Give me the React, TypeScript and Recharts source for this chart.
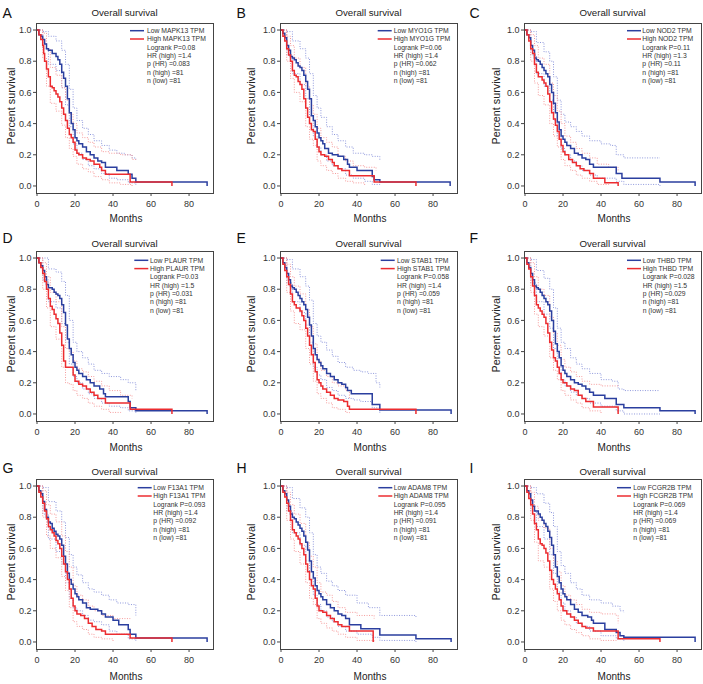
import React from 'react';
import { LineChart, Line, XAxis, YAxis } from 'recharts';

type Pt = [number, number];

// ---------- Panel text ----------
const letters = ['A', 'B', 'C', 'D', 'E', 'F', 'G', 'H', 'I'];
const genes = ['MAPK13', 'MYO1G', 'NOD2', 'PLAUR', 'STAB1', 'THBD', 'F13A1', 'ADAM8', 'FCGR2B'];
const logrankP = ['0.08', '0.06', '0.11', '0.03', '0.058', '0.028', '0.093', '0.095', '0.069'];
const hrHigh = ['1.4', '1.4', '1.3', '1.5', '1.4', '1.5', '1.4', '1.4', '1.4'];
const pHR = ['0.083', '0.062', '0.11', '0.031', '0.059', '0.029', '0.092', '0.091', '0.069'];
const nHigh = ['81', '81', '81', '81', '81', '81', '81', '81', '81'];
const nLow = ['81', '81', '81', '81', '81', '81', '81', '81', '81'];
const xTicks = [0, 20, 40, 60, 80];
const yTicks = [0, 0.2, 0.4, 0.6, 0.8, 1.0];

// ---------- Panel A: MAPK13 ----------
const A_low: Pt[] = [[0,1],[1,0.97],[2,0.96],[3,0.94],[4,0.91],[5,0.88],[6,0.87],[8,0.85],[10,0.83],[11,0.81],[12,0.78],[13,0.73],[14,0.69],[15,0.64],[16,0.56],[17,0.47],[18,0.40],[19,0.36],[20,0.31],[21,0.29],[22,0.27],[24,0.25],[26,0.22],[28,0.20],[30,0.18],[32,0.16],[34,0.15],[36,0.12],[42,0.10],[48,0.075],[50,0.05],[52,0.025],[89.5,0.025],[89.5,0]];
const A_high: Pt[] = [[0,1],[1,0.97],[2,0.94],[3,0.90],[3.5,0.85],[4,0.80],[5,0.75],[6,0.70],[7,0.64],[8,0.63],[9,0.61],[10,0.59],[11,0.57],[12,0.54],[13,0.50],[14,0.46],[15,0.42],[16,0.37],[17,0.33],[18,0.31],[19,0.28],[20,0.23],[21,0.21],[22,0.20],[24,0.18],[26,0.17],[28,0.16],[30,0.14],[33,0.12],[34,0.10],[36,0.075],[49,0.025],[71,0.025],[71,0]];
const A_lowUp: Pt[] = [[0,1],[3,0.99],[6,0.96],[10,0.93],[13,0.87],[15,0.78],[17,0.62],[19,0.50],[21,0.42],[24,0.37],[27,0.33],[30,0.29],[34,0.26],[38,0.23],[42,0.21],[46,0.20],[50,0.18],[52,0.17]];
const A_lowLo: Pt[] = [[0,1],[3,0.88],[6,0.78],[10,0.74],[13,0.63],[15,0.52],[17,0.38],[19,0.27],[21,0.21],[24,0.17],[27,0.13],[30,0.11],[34,0.08],[38,0.05],[42,0.04],[48,0.02],[52,0.0]];
const A_highUp: Pt[] = [[0,1],[3,0.98],[5,0.88],[7,0.76],[10,0.71],[13,0.63],[15,0.55],[17,0.46],[19,0.40],[21,0.34],[24,0.31],[27,0.28],[30,0.25],[34,0.22],[38,0.21],[44,0.20],[50,0.17],[52,0.16]];
const A_highLo: Pt[] = [[0,1],[3,0.82],[5,0.64],[7,0.53],[10,0.48],[13,0.39],[15,0.31],[17,0.24],[19,0.19],[21,0.14],[24,0.11],[27,0.09],[30,0.06],[34,0.04],[38,0.02],[44,0.01],[50,0.0]];

// ---------- Panel B: MYO1G ----------
const B_low: Pt[] = [[0,1],[1,0.98],[2,0.95],[3,0.90],[4,0.87],[5,0.83],[6,0.82],[7,0.81],[8,0.79],[9,0.77],[10,0.76],[11,0.74],[12,0.71],[13,0.67],[14,0.62],[15,0.56],[16,0.45],[17,0.42],[18,0.38],[19,0.34],[20,0.31],[21,0.29],[22,0.27],[23,0.24],[25,0.21],[27,0.20],[30,0.19],[33,0.17],[35,0.14],[36,0.12],[40,0.10],[48,0.06],[49,0.04],[52,0.025],[89,0.025],[89,0]];
const B_high: Pt[] = [[0,1],[1,0.96],[2,0.93],[3,0.88],[4,0.84],[5,0.80],[6,0.74],[7,0.71],[8,0.70],[9,0.67],[10,0.65],[11,0.62],[12,0.56],[13,0.50],[14,0.44],[15,0.40],[16,0.36],[17,0.35],[18,0.30],[19,0.25],[20,0.22],[21,0.20],[23,0.19],[25,0.17],[27,0.15],[28,0.13],[30,0.11],[32,0.10],[36,0.065],[49,0.025],[71,0.025],[71,0]];
const B_lowUp: Pt[] = [[0,1],[3,0.99],[6,0.93],[10,0.88],[13,0.82],[15,0.72],[17,0.58],[19,0.50],[21,0.44],[24,0.38],[27,0.33],[30,0.29],[34,0.25],[38,0.21],[44,0.20],[48,0.19],[52,0.16]];
const B_lowLo: Pt[] = [[0,1],[3,0.84],[6,0.72],[10,0.65],[13,0.56],[15,0.45],[17,0.32],[19,0.25],[21,0.20],[24,0.16],[27,0.13],[30,0.11],[34,0.07],[38,0.05],[44,0.03],[48,0.01],[52,0.0]];
const B_highUp: Pt[] = [[0,1],[3,0.96],[5,0.90],[7,0.82],[10,0.76],[13,0.64],[15,0.52],[17,0.46],[19,0.37],[21,0.31],[24,0.28],[27,0.25],[30,0.19],[34,0.16],[38,0.13],[44,0.12],[50,0.10]];
const B_highLo: Pt[] = [[0,1],[3,0.80],[5,0.69],[7,0.60],[10,0.54],[13,0.38],[15,0.30],[17,0.26],[19,0.16],[21,0.13],[24,0.10],[27,0.08],[30,0.05],[34,0.03],[38,0.02],[44,0.0]];

// ---------- Panel C: NOD2 ----------
const C_low: Pt[] = [[0,1],[1,0.97],[2,0.95],[3,0.90],[4,0.87],[5,0.82],[6,0.81],[7,0.80],[8,0.78],[9,0.76],[10,0.74],[11,0.72],[12,0.70],[13,0.65],[14,0.60],[15,0.53],[16,0.47],[17,0.41],[18,0.36],[19,0.32],[20,0.30],[21,0.28],[22,0.26],[24,0.24],[26,0.21],[28,0.20],[30,0.18],[32,0.17],[34,0.14],[36,0.12],[48,0.08],[51,0.05],[71,0.025],[89.5,0.025],[89.5,0]];
const C_high: Pt[] = [[0,1],[1,0.97],[2,0.93],[3,0.88],[4,0.85],[5,0.78],[6,0.73],[7,0.70],[9,0.68],[10,0.66],[11,0.64],[12,0.59],[13,0.54],[14,0.47],[15,0.43],[16,0.39],[17,0.35],[18,0.30],[19,0.26],[20,0.22],[21,0.20],[23,0.17],[25,0.15],[27,0.13],[29,0.11],[31,0.10],[34,0.08],[36,0.05],[42,0.02],[49,0.02],[49,0]];
const C_lowUp: Pt[] = [[0,1],[3,0.99],[6,0.92],[10,0.86],[13,0.80],[15,0.70],[17,0.55],[19,0.46],[21,0.41],[24,0.38],[27,0.35],[30,0.32],[34,0.29],[40,0.27],[45,0.26],[48,0.20],[52,0.18],[71,0.18]];
const C_lowLo: Pt[] = [[0,1],[3,0.84],[6,0.72],[10,0.64],[13,0.55],[15,0.42],[17,0.32],[19,0.24],[21,0.20],[24,0.16],[27,0.13],[30,0.10],[34,0.07],[38,0.05],[48,0.03],[52,0.01],[71,0.0]];
const C_highUp: Pt[] = [[0,1],[3,0.97],[5,0.90],[7,0.82],[10,0.78],[13,0.66],[15,0.58],[17,0.48],[19,0.40],[21,0.32],[24,0.28],[27,0.24],[30,0.21],[34,0.18],[38,0.14],[44,0.12],[49,0.10]];
const C_highLo: Pt[] = [[0,1],[3,0.80],[5,0.66],[7,0.58],[10,0.52],[13,0.40],[15,0.32],[17,0.25],[19,0.17],[21,0.13],[24,0.10],[27,0.07],[30,0.05],[34,0.03],[38,0.01],[44,0.0]];

// ---------- Panel D: PLAUR ----------
const D_low: Pt[] = [[0,1],[1,0.97],[2,0.95],[3,0.92],[4,0.88],[5,0.83],[6,0.81],[8,0.80],[9,0.78],[10,0.77],[11,0.76],[12,0.74],[13,0.70],[14,0.65],[15,0.57],[16,0.48],[17,0.42],[18,0.38],[19,0.33],[20,0.30],[21,0.28],[22,0.26],[24,0.24],[26,0.22],[28,0.20],[30,0.18],[33,0.16],[35,0.13],[36,0.11],[48,0.08],[49,0.04],[52,0.02],[89.5,0.02],[89.5,0]];
const D_high: Pt[] = [[0,1],[1,0.97],[2,0.94],[3,0.90],[4,0.85],[5,0.80],[6,0.74],[7,0.69],[8,0.67],[9,0.64],[10,0.61],[11,0.58],[12,0.52],[13,0.44],[14,0.34],[15,0.30],[18,0.30],[19,0.25],[20,0.21],[22,0.19],[24,0.18],[26,0.16],[28,0.14],[30,0.12],[32,0.10],[36,0.07],[49,0.03],[71,0.03],[71,0]];
const D_lowUp: Pt[] = [[0,1],[3,1.0],[6,0.93],[10,0.91],[13,0.85],[15,0.76],[17,0.60],[19,0.46],[21,0.40],[24,0.36],[27,0.32],[30,0.28],[34,0.26],[38,0.24],[44,0.22],[48,0.20],[52,0.15]];
const D_lowLo: Pt[] = [[0,1],[3,0.86],[6,0.72],[10,0.68],[13,0.58],[15,0.46],[17,0.32],[19,0.24],[21,0.20],[24,0.16],[27,0.13],[30,0.10],[34,0.07],[38,0.05],[44,0.04],[48,0.02],[52,0.0]];
const D_highUp: Pt[] = [[0,1],[3,0.97],[5,0.88],[7,0.78],[10,0.72],[13,0.56],[15,0.42],[17,0.40],[19,0.34],[21,0.29],[24,0.27],[27,0.24],[30,0.21],[34,0.18],[38,0.15],[44,0.12],[50,0.10]];
const D_highLo: Pt[] = [[0,1],[3,0.80],[5,0.68],[7,0.56],[10,0.48],[13,0.30],[15,0.20],[17,0.19],[19,0.15],[21,0.12],[24,0.10],[27,0.07],[30,0.05],[34,0.03],[38,0.01],[44,0.0]];

// ---------- Panel E: STAB1 ----------
const E_low: Pt[] = [[0,1],[1,0.97],[2,0.94],[3,0.90],[4,0.86],[5,0.82],[6,0.81],[7,0.80],[8,0.78],[9,0.76],[10,0.74],[11,0.72],[12,0.70],[13,0.67],[14,0.62],[15,0.57],[16,0.50],[17,0.42],[18,0.38],[19,0.35],[20,0.33],[21,0.31],[22,0.29],[24,0.26],[26,0.24],[28,0.22],[30,0.20],[32,0.19],[34,0.17],[35,0.15],[37,0.13],[48,0.06],[52,0.025],[89.5,0.025],[89.5,0]];
const E_high: Pt[] = [[0,1],[1,0.96],[2,0.92],[3,0.88],[4,0.83],[5,0.77],[6,0.72],[7,0.70],[8,0.68],[10,0.66],[11,0.63],[12,0.60],[13,0.55],[14,0.50],[15,0.44],[16,0.38],[17,0.33],[18,0.27],[19,0.22],[20,0.20],[21,0.18],[22,0.16],[24,0.14],[26,0.12],[28,0.10],[30,0.09],[33,0.08],[35,0.05],[36,0.03],[71,0.03],[71,0]];
const E_lowUp: Pt[] = [[0,1],[3,0.99],[6,0.93],[10,0.88],[13,0.82],[15,0.73],[17,0.58],[19,0.50],[21,0.46],[24,0.41],[27,0.37],[30,0.33],[34,0.30],[38,0.28],[42,0.27],[46,0.26],[50,0.20],[52,0.17]];
const E_lowLo: Pt[] = [[0,1],[3,0.84],[6,0.72],[10,0.65],[13,0.57],[15,0.46],[17,0.30],[19,0.25],[21,0.22],[24,0.17],[27,0.15],[30,0.12],[34,0.10],[38,0.09],[42,0.08],[48,0.04],[52,0.0]];
const E_highUp: Pt[] = [[0,1],[3,0.96],[5,0.88],[7,0.82],[10,0.77],[13,0.67],[15,0.56],[17,0.45],[19,0.34],[21,0.28],[24,0.24],[27,0.20],[30,0.18],[34,0.15],[36,0.10]];
const E_highLo: Pt[] = [[0,1],[3,0.78],[5,0.66],[7,0.58],[10,0.54],[13,0.42],[15,0.32],[17,0.21],[19,0.13],[21,0.10],[24,0.07],[27,0.04],[30,0.03],[34,0.01],[36,0.0]];

// ---------- Panel F: THBD ----------
const F_low: Pt[] = [[0,1],[1,0.97],[2,0.94],[3,0.90],[4,0.86],[5,0.82],[6,0.81],[7,0.80],[8,0.78],[9,0.76],[10,0.74],[11,0.72],[12,0.70],[13,0.66],[14,0.60],[15,0.53],[16,0.45],[17,0.40],[18,0.36],[19,0.31],[20,0.28],[21,0.26],[22,0.24],[24,0.22],[26,0.20],[28,0.19],[30,0.18],[32,0.16],[34,0.14],[36,0.12],[42,0.10],[48,0.06],[52,0.04],[71,0.02],[89.5,0.02],[89.5,0]];
const F_high: Pt[] = [[0,1],[1,0.96],[2,0.93],[3,0.88],[4,0.82],[5,0.76],[6,0.70],[7,0.68],[8,0.66],[9,0.64],[10,0.62],[11,0.58],[12,0.52],[13,0.46],[14,0.41],[15,0.36],[16,0.34],[17,0.30],[18,0.26],[19,0.22],[20,0.20],[22,0.18],[24,0.16],[26,0.15],[28,0.12],[30,0.10],[32,0.08],[36,0.045],[49,0.045],[49,0]];
const F_lowUp: Pt[] = [[0,1],[3,0.99],[6,0.92],[10,0.87],[13,0.80],[15,0.68],[17,0.55],[19,0.46],[21,0.42],[24,0.36],[27,0.32],[30,0.29],[34,0.26],[40,0.22],[46,0.21],[49,0.16],[52,0.15],[71,0.15]];
const F_lowLo: Pt[] = [[0,1],[3,0.84],[6,0.72],[10,0.64],[13,0.55],[15,0.42],[17,0.30],[19,0.22],[21,0.18],[24,0.14],[27,0.12],[30,0.10],[34,0.07],[40,0.05],[48,0.02],[52,0.0],[71,0.0]];
const F_highUp: Pt[] = [[0,1],[3,0.97],[5,0.88],[7,0.80],[10,0.76],[13,0.62],[15,0.52],[17,0.44],[19,0.35],[21,0.30],[24,0.27],[27,0.24],[30,0.21],[34,0.19],[40,0.18],[49,0.18]];
const F_highLo: Pt[] = [[0,1],[3,0.78],[5,0.64],[7,0.56],[10,0.50],[13,0.36],[15,0.28],[17,0.22],[19,0.15],[21,0.12],[24,0.09],[27,0.07],[30,0.04],[34,0.02],[40,0.0]];

// ---------- Panel G: F13A1 ----------
const G_low: Pt[] = [[0,1],[1,0.97],[2,0.95],[3,0.90],[4,0.85],[5,0.80],[6,0.77],[7,0.76],[8,0.73],[9,0.71],[10,0.69],[11,0.68],[12,0.66],[13,0.62],[14,0.55],[15,0.50],[16,0.44],[17,0.40],[18,0.37],[19,0.34],[20,0.31],[21,0.29],[22,0.27],[24,0.25],[26,0.22],[28,0.21],[32,0.20],[34,0.18],[36,0.16],[40,0.14],[43,0.11],[48,0.08],[49,0.05],[52,0.025],[89.5,0.025],[89.5,0]];
const G_high: Pt[] = [[0,1],[1,0.96],[2,0.93],[3,0.89],[4,0.84],[5,0.79],[6,0.74],[7,0.72],[8,0.70],[9,0.68],[10,0.65],[11,0.63],[12,0.60],[13,0.55],[14,0.50],[15,0.45],[16,0.40],[17,0.34],[18,0.28],[19,0.23],[20,0.20],[21,0.18],[23,0.17],[25,0.15],[27,0.12],[29,0.10],[31,0.08],[34,0.07],[36,0.05],[49,0.025],[71,0.025],[71,0]];
const G_lowUp: Pt[] = [[0,1],[3,0.99],[6,0.90],[10,0.84],[13,0.77],[15,0.67],[17,0.56],[19,0.48],[21,0.43],[24,0.38],[27,0.34],[30,0.32],[34,0.30],[38,0.27],[42,0.25],[48,0.24],[52,0.17]];
const G_lowLo: Pt[] = [[0,1],[3,0.82],[6,0.66],[10,0.58],[13,0.50],[15,0.38],[17,0.28],[19,0.22],[21,0.20],[24,0.17],[27,0.14],[30,0.13],[34,0.11],[38,0.07],[42,0.05],[48,0.02],[52,0.0]];
const G_highUp: Pt[] = [[0,1],[3,0.97],[5,0.88],[7,0.82],[10,0.77],[13,0.68],[15,0.58],[17,0.48],[19,0.36],[21,0.30],[24,0.27],[27,0.23],[30,0.20],[34,0.17],[40,0.15],[49,0.14]];
const G_highLo: Pt[] = [[0,1],[3,0.80],[5,0.68],[7,0.60],[10,0.54],[13,0.42],[15,0.33],[17,0.22],[19,0.13],[21,0.10],[24,0.08],[27,0.05],[30,0.03],[34,0.02],[40,0.0]];

// ---------- Panel H: ADAM8 ----------
const H_low: Pt[] = [[0,1],[1,0.97],[2,0.95],[3,0.91],[4,0.87],[5,0.82],[6,0.80],[7,0.79],[8,0.77],[9,0.75],[10,0.73],[11,0.71],[12,0.68],[13,0.64],[14,0.59],[15,0.52],[16,0.45],[17,0.41],[18,0.36],[19,0.33],[20,0.31],[21,0.29],[22,0.27],[24,0.24],[26,0.22],[28,0.20],[30,0.18],[32,0.17],[34,0.15],[36,0.11],[42,0.085],[52,0.045],[71,0.02],[89.5,0.02],[89.5,0]];
const H_high: Pt[] = [[0,1],[1,0.96],[2,0.93],[3,0.89],[4,0.84],[5,0.78],[6,0.72],[7,0.70],[8,0.68],[9,0.66],[10,0.63],[11,0.60],[12,0.56],[13,0.50],[14,0.45],[15,0.40],[16,0.36],[17,0.34],[18,0.28],[19,0.23],[20,0.20],[22,0.19],[24,0.17],[26,0.15],[28,0.13],[30,0.11],[32,0.10],[36,0.07],[48.5,0.07],[48.5,0]];
const H_lowUp: Pt[] = [[0,1],[3,0.99],[6,0.92],[10,0.86],[13,0.80],[15,0.70],[17,0.56],[19,0.48],[21,0.44],[24,0.39],[27,0.36],[30,0.33],[34,0.30],[40,0.25],[46,0.22],[52,0.17],[71,0.16]];
const H_lowLo: Pt[] = [[0,1],[3,0.84],[6,0.70],[10,0.62],[13,0.52],[15,0.40],[17,0.30],[19,0.24],[21,0.20],[24,0.16],[27,0.13],[30,0.10],[34,0.07],[40,0.05],[48,0.03],[52,0.01],[71,0.0]];
const H_highUp: Pt[] = [[0,1],[3,0.96],[5,0.88],[7,0.82],[10,0.76],[13,0.64],[15,0.55],[17,0.48],[19,0.38],[21,0.32],[24,0.30],[27,0.26],[30,0.22],[34,0.19],[40,0.17],[49,0.15]];
const H_highLo: Pt[] = [[0,1],[3,0.78],[5,0.66],[7,0.58],[10,0.50],[13,0.38],[15,0.28],[17,0.24],[19,0.15],[21,0.12],[24,0.09],[27,0.07],[30,0.05],[34,0.03],[40,0.01],[49,0.0]];

// ---------- Panel I: FCGR2B ----------
const I_low: Pt[] = [[0,1],[1,0.97],[2,0.95],[3,0.91],[4,0.87],[5,0.84],[7,0.82],[8,0.80],[9,0.78],[10,0.76],[11,0.74],[12,0.71],[13,0.67],[14,0.62],[15,0.56],[16,0.48],[17,0.42],[18,0.38],[19,0.34],[20,0.31],[21,0.29],[22,0.27],[24,0.24],[26,0.21],[28,0.19],[30,0.17],[33,0.16],[35,0.14],[36,0.12],[42,0.08],[48,0.06],[50,0.04],[52,0.03],[89.5,0.03],[89.5,0]];
const I_high: Pt[] = [[0,1],[1,0.96],[2,0.92],[3,0.88],[4,0.82],[5,0.76],[6,0.72],[7,0.66],[8,0.63],[9,0.62],[10,0.60],[11,0.57],[12,0.52],[13,0.46],[14,0.40],[15,0.37],[16,0.34],[17,0.31],[18,0.27],[19,0.23],[20,0.20],[22,0.18],[24,0.16],[26,0.14],[28,0.12],[30,0.10],[32,0.09],[36,0.07],[48,0.07],[49,0.02],[71,0.02],[71,0]];
const I_lowUp: Pt[] = [[0,1],[3,0.99],[6,0.95],[10,0.89],[13,0.83],[15,0.74],[17,0.58],[19,0.49],[21,0.44],[24,0.38],[27,0.34],[30,0.30],[34,0.27],[40,0.25],[46,0.23],[50,0.20],[52,0.19]];
const I_lowLo: Pt[] = [[0,1],[3,0.84],[6,0.74],[10,0.66],[13,0.56],[15,0.44],[17,0.32],[19,0.25],[21,0.20],[24,0.16],[27,0.12],[30,0.10],[34,0.07],[40,0.04],[48,0.02],[52,0.0]];
const I_highUp: Pt[] = [[0,1],[3,0.96],[5,0.87],[7,0.78],[10,0.73],[13,0.60],[15,0.52],[17,0.45],[19,0.36],[21,0.30],[24,0.27],[27,0.24],[30,0.21],[34,0.19],[40,0.18],[48,0.17],[49,0.12]];
const I_highLo: Pt[] = [[0,1],[3,0.78],[5,0.64],[7,0.52],[10,0.48],[13,0.34],[15,0.26],[17,0.20],[19,0.14],[21,0.11],[24,0.08],[27,0.06],[30,0.04],[34,0.02],[40,0.01],[48,0.0]];

const lowCurves = [A_low, B_low, C_low, D_low, E_low, F_low, G_low, H_low, I_low];
const highCurves = [A_high, B_high, C_high, D_high, E_high, F_high, G_high, H_high, I_high];
const lowUpper = [A_lowUp, B_lowUp, C_lowUp, D_lowUp, E_lowUp, F_lowUp, G_lowUp, H_lowUp, I_lowUp];
const lowLower = [A_lowLo, B_lowLo, C_lowLo, D_lowLo, E_lowLo, F_lowLo, G_lowLo, H_lowLo, I_lowLo];
const highUpper = [A_highUp, B_highUp, C_highUp, D_highUp, E_highUp, F_highUp, G_highUp, H_highUp, I_highUp];
const highLower = [A_highLo, B_highLo, C_highLo, D_highLo, E_highLo, F_highLo, G_highLo, H_highLo, I_highLo];

// ---------- Layout / style ----------
const FONT = '"Liberation Sans", Arial, Helvetica, sans-serif';
const BLUE = '#2b3f9f';
const RED = '#ec2c30';
const LIGHT_BLUE = '#8f98dc';
const LIGHT_RED = '#f59c9c';
const FRAME = '#444';
const FW = 177;
const FH = 170;
const colLeft = [36, 280, 524];
const rowTop = [23, 251, 479];
const letterX = [2.5, 236.5, 469.5];
const letterBase = [18.3, 243, 472.5];
const titleBase = [15.5, 247, 475.3];
const monthsBase = [221.5, 451, 680];
const legendY0 = [30.7, 260.3, 487.7];
const yLabelBase = [14.5, 254.5, 500];
const legendLineX = [130, 377.7, 627, 134.3, 380.7, 627, 137.7, 378.3, 617];
const legendTextX = [147, 393.7, 642.3, 150, 397, 642.7, 153.3, 393.7, 633.3];

const YW = 36;
const MT = 5;
const XH = 25;

const toObj = (pts: Pt[]) => pts.map((p) => ({ x: p[0], y: p[1] }));

function Panel({ i }: { i: number }) {
  const col = i % 3;
  const row = Math.floor(i / 3);
  const left = colLeft[col] - YW;
  const top = rowTop[row] - MT;
  const ci = [
    { d: lowUpper[i], c: LIGHT_BLUE, k: 'lu' },
    { d: lowLower[i], c: LIGHT_BLUE, k: 'll' },
    { d: highUpper[i], c: LIGHT_RED, k: 'hu' },
    { d: highLower[i], c: LIGHT_RED, k: 'hl' },
  ];
  return (
    <div style={{ position: 'absolute', left, top }}>
      <LineChart width={YW + FW + 2} height={MT + FH + XH} margin={{ top: MT, right: 2, left: 0, bottom: 0 }}>
        <XAxis
          type="number"
          dataKey="x"
          domain={[-0.53, 92.6]}
          ticks={xTicks}
          allowDataOverflow
          axisLine={false}
          tickLine={{ stroke: FRAME }}
          tickSize={3}
          tickMargin={5}
          height={XH}
          interval={0}
          tick={{ fontSize: 9, fill: '#333', fontFamily: FONT }}
        />
        <YAxis
          type="number"
          dataKey="y"
          domain={[-0.045, 1.045]}
          ticks={yTicks}
          allowDataOverflow
          axisLine={false}
          tickLine={{ stroke: FRAME }}
          tickSize={3}
          tickMargin={1.5}
          width={YW}
          interval={0}
          tickFormatter={(v: number) => v.toFixed(1)}
          tick={{ fontSize: 9, fill: '#333', fontFamily: FONT }}
        />
        {ci.map((s) => (
          <Line
            key={s.k}
            data={toObj(s.d)}
            dataKey="y"
            type="stepAfter"
            stroke={s.c}
            strokeWidth={1}
            strokeDasharray="1 1.5"
            dot={false}
            activeDot={false}
            isAnimationActive={false}
          />
        ))}
        <Line data={toObj(lowCurves[i])} dataKey="y" type="stepAfter" stroke={BLUE} strokeWidth={1.5} dot={false} activeDot={false} isAnimationActive={false} />
        <Line data={toObj(highCurves[i])} dataKey="y" type="stepAfter" stroke={RED} strokeWidth={1.5} dot={false} activeDot={false} isAnimationActive={false} />
      </LineChart>
    </div>
  );
}

function Overlay() {
  const items: React.ReactNode[] = [];
  for (let i = 0; i < 9; i++) {
    const col = i % 3;
    const row = Math.floor(i / 3);
    const fl = colLeft[col];
    const ft = rowTop[row];
    const cx = fl + FW / 2;
    items.push(
      <g key={i}>
        <rect x={fl + 0.5} y={ft + 0.5} width={FW} height={FH} fill="none" stroke={FRAME} strokeWidth={1} />
        <text x={letterX[col]} y={letterBase[row]} fontSize={14} fill="#111">{letters[i]}</text>
        <text x={cx} y={titleBase[row]} fontSize={9.7} fill="#222" textAnchor="middle">Overall survival</text>
        <text x={cx + 1.5} y={monthsBase[row]} fontSize={10} fill="#222" textAnchor="middle">Months</text>
        <text
          transform={`translate(${yLabelBase[col]}, ${ft + 83}) rotate(-90)`}
          fontSize={10.8}
          fill="#222"
          textAnchor="middle"
        >
          Percent survival
        </text>
        <line x1={legendLineX[i]} x2={legendLineX[i] + 14} y1={legendY0[row]} y2={legendY0[row]} stroke={BLUE} strokeWidth={1.5} />
        <line x1={legendLineX[i]} x2={legendLineX[i] + 14} y1={legendY0[row] + 8.3} y2={legendY0[row] + 8.3} stroke={RED} strokeWidth={1.5} />
        {[
          `Low ${genes[i]} TPM`,
          `High ${genes[i]} TPM`,
          `Logrank P=${logrankP[i]}`,
          `HR (high) =${hrHigh[i]}`,
          `p (HR) =${pHR[i]}`,
          `n (high) =${nHigh[i]}`,
          `n (low) =${nLow[i]}`,
        ].map((t, j) => (
          <text key={j} x={legendTextX[i]} y={legendY0[row] + j * 8.3 + 2.4} fontSize={6.8} fill="#333">
            {t}
          </text>
        ))}
      </g>
    );
  }
  return (
    <svg width={703} height={684} style={{ position: 'absolute', left: 0, top: 0, pointerEvents: 'none' }} fontFamily={FONT}>
      {items}
    </svg>
  );
}

export default function App() {
  return (
    <div style={{ position: 'absolute', left: 0, top: 0, width: 703, height: 684, background: '#fff', overflow: 'hidden' }}>
      {Array.from({ length: 9 }, (_, i) => (
        <Panel key={i} i={i} />
      ))}
      <Overlay />
    </div>
  );
}
